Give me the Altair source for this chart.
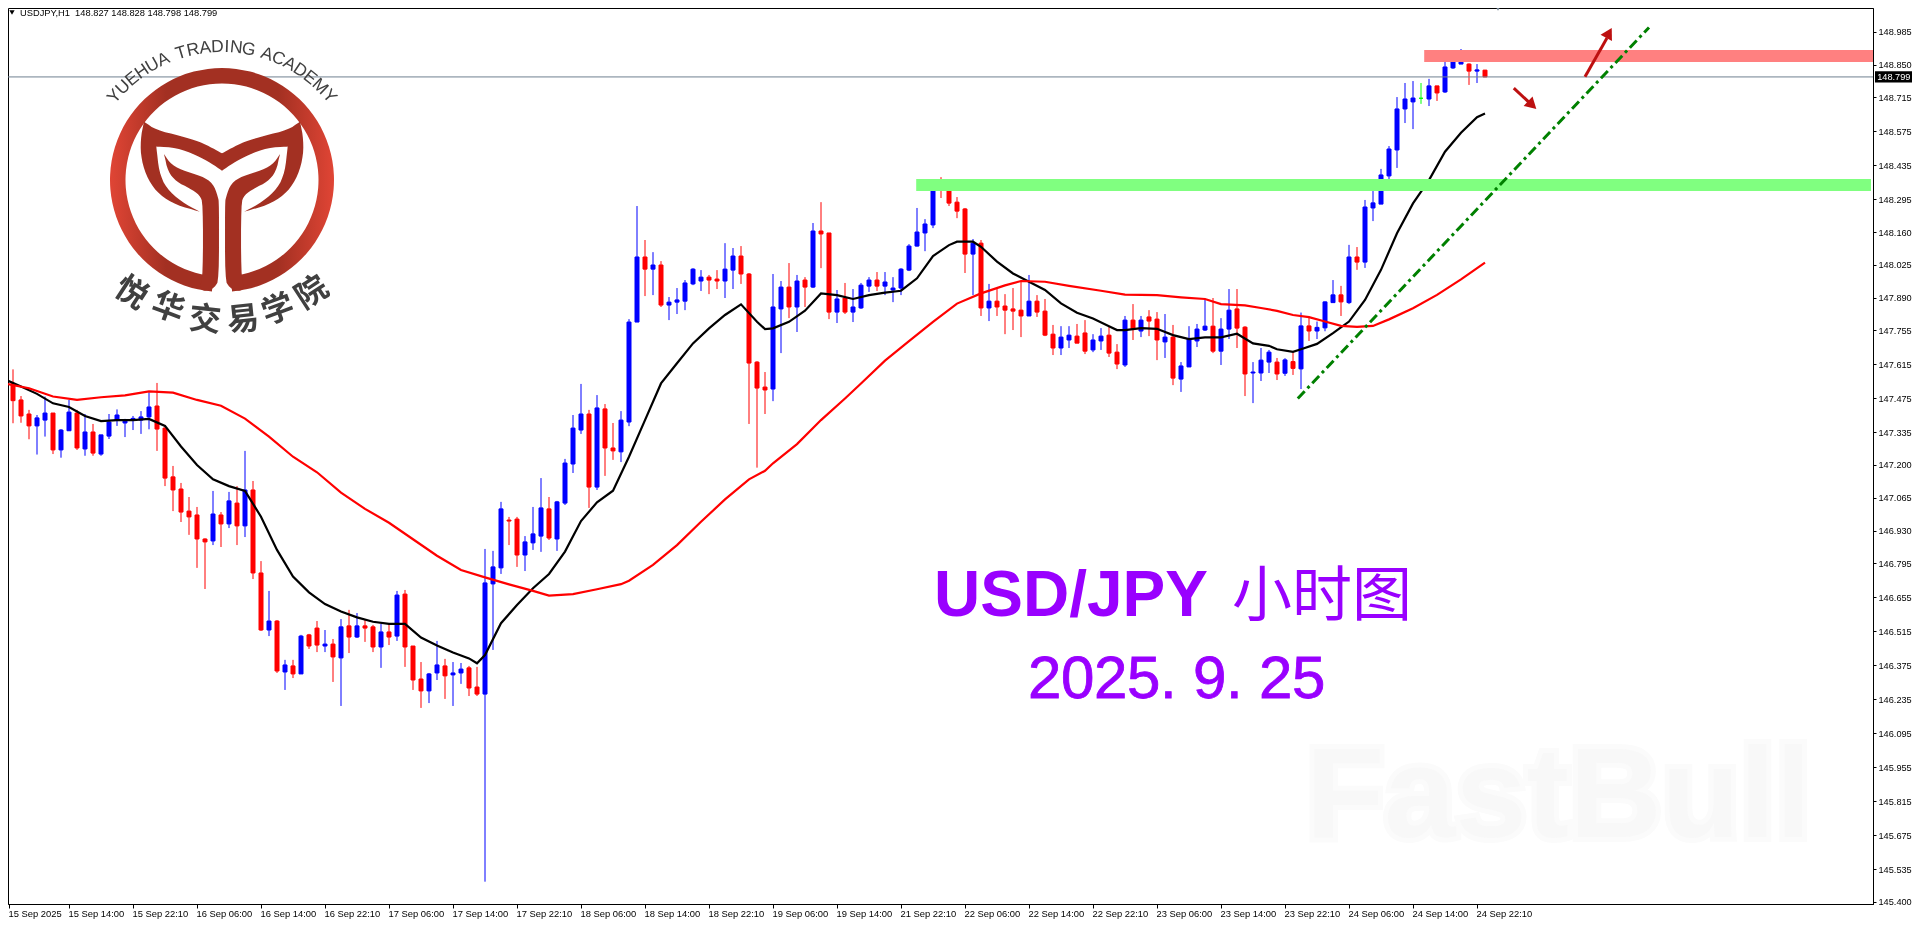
import json

import altair as alt
import numpy as np
import pandas as pd

# hourly candles, one entry per bar
opens = [
    147.502, 147.536, 147.468, 147.410, 147.361, 147.385, 147.414, 147.262, 147.341, 147.414,
    147.266, 147.336, 147.245, 147.319, 147.384, 147.373, 147.385, 147.385, 147.398, 147.443,
    147.352, 147.151, 147.101, 147.010, 146.994, 146.895, 146.887, 146.994, 146.957, 147.043,
    146.949, 147.097, 146.755, 146.520, 146.557, 146.347, 146.372, 146.339, 146.500, 146.528,
    146.454, 146.462, 146.405, 146.537, 146.491, 146.537, 146.533, 146.450, 146.512, 146.495,
    146.668, 146.454, 146.318, 146.269, 146.343, 146.372, 146.335, 146.343, 146.364, 146.285,
    146.256, 146.710, 146.776, 146.973, 146.977, 146.829, 146.879, 146.907, 147.019, 146.895,
    147.043, 147.204, 147.344, 147.410, 147.109, 147.431, 147.270, 147.254, 147.377, 147.789,
    148.057, 148.007, 148.024, 147.859, 147.871, 147.875, 147.946, 147.958, 147.974, 147.966,
    147.958, 148.003, 148.061, 147.987, 147.624, 147.521, 147.513, 147.843, 147.933, 147.851,
    147.962, 147.933, 148.164, 148.156, 147.830, 147.888, 147.830, 147.847, 147.937, 147.962,
    147.937, 147.921, 147.929, 148.003, 148.102, 148.156, 148.189, 148.345, 148.337, 148.283,
    148.255, 148.069, 148.114, 147.847, 147.875, 147.855, 147.843, 147.838, 147.814, 147.875,
    147.834, 147.739, 147.682, 147.715, 147.731, 147.744, 147.674, 147.711, 147.735, 147.665,
    147.612, 147.797, 147.752, 147.810, 147.801, 147.707, 147.727, 147.554, 147.604, 147.711,
    147.756, 147.772, 147.669, 147.760, 147.843, 147.768, 147.579, 147.579, 147.624, 147.624,
    147.578, 147.626, 147.596, 147.773, 147.752, 147.765, 147.869, 147.901, 147.869, 148.057,
    148.036, 148.259, 148.275, 148.391, 148.498, 148.667, 148.696, 148.711, 148.708, 148.762,
    148.737, 148.836, 148.852, 148.852, 148.823, 148.827,
]
closes = [
    147.525, 147.465, 147.402, 147.361, 147.394, 147.414, 147.262, 147.344, 147.418, 147.270,
    147.336, 147.249, 147.324, 147.377, 147.406, 147.381, 147.392, 147.398, 147.439, 147.348,
    147.146, 147.097, 147.006, 146.986, 146.895, 146.883, 146.998, 146.957, 147.052, 146.949,
    147.097, 146.755, 146.520, 146.557, 146.351, 146.376, 146.339, 146.495, 146.454, 146.458,
    146.462, 146.409, 146.533, 146.491, 146.537, 146.528, 146.450, 146.512, 146.491, 146.664,
    146.450, 146.314, 146.269, 146.339, 146.376, 146.331, 146.343, 146.359, 146.281, 146.256,
    146.714, 146.780, 147.019, 146.969, 146.829, 146.883, 146.916, 147.023, 146.899, 147.048,
    147.208, 147.352, 147.410, 147.109, 147.435, 147.270, 147.258, 147.385, 147.789, 148.057,
    148.007, 148.024, 147.859, 147.871, 147.880, 147.950, 148.007, 147.974, 147.962, 147.958,
    148.007, 148.061, 147.987, 147.620, 147.517, 147.509, 147.851, 147.933, 147.851, 147.958,
    147.933, 148.164, 148.152, 147.830, 147.884, 147.830, 147.851, 147.941, 147.962, 147.937,
    147.954, 147.929, 148.007, 148.102, 148.160, 148.193, 148.345, 148.333, 148.279, 148.246,
    148.069, 148.114, 147.847, 147.875, 147.851, 147.838, 147.834, 147.814, 147.875, 147.830,
    147.735, 147.682, 147.727, 147.735, 147.702, 147.669, 147.715, 147.731, 147.661, 147.616,
    147.797, 147.760, 147.797, 147.793, 147.715, 147.727, 147.558, 147.608, 147.719, 147.760,
    147.772, 147.669, 147.760, 147.838, 147.764, 147.575, 147.583, 147.632, 147.665, 147.575,
    147.633, 147.598, 147.773, 147.752, 147.767, 147.872, 147.901, 147.872, 148.057, 148.036,
    148.263, 148.280, 148.395, 148.502, 148.667, 148.708, 148.712, 148.711, 148.762, 148.733,
    148.840, 148.861, 148.906, 148.823, 148.828, 148.799,
]
highs = [
    147.608, 147.594, 147.484, 147.427, 147.406, 147.482, 147.414, 147.348, 147.468, 147.427,
    147.410, 147.369, 147.324, 147.410, 147.429, 147.390, 147.402, 147.422, 147.499, 147.538,
    147.358, 147.196, 147.126, 147.068, 147.027, 146.898, 147.093, 147.006, 147.089, 147.113,
    147.258, 147.134, 146.804, 146.681, 146.561, 146.397, 146.397, 146.500, 146.504, 146.557,
    146.520, 146.483, 146.565, 146.603, 146.590, 146.565, 146.541, 146.545, 146.545, 146.681,
    146.685, 146.454, 146.388, 146.343, 146.475, 146.401, 146.388, 146.384, 146.372, 146.368,
    146.854, 146.846, 147.048, 146.986, 146.986, 146.907, 147.027, 147.146, 147.068, 147.052,
    147.225, 147.406, 147.534, 147.427, 147.488, 147.451, 147.373, 147.422, 147.801, 148.267,
    148.127, 148.077, 148.040, 147.892, 147.929, 147.962, 148.011, 148.003, 147.983, 148.003,
    148.114, 148.094, 148.102, 147.991, 147.628, 147.583, 147.987, 147.958, 148.032, 147.983,
    147.974, 148.197, 148.283, 148.156, 147.921, 147.950, 147.925, 147.950, 147.974, 147.995,
    147.995, 147.974, 148.011, 148.110, 148.259, 148.213, 148.353, 148.386, 148.378, 148.304,
    148.259, 148.131, 148.127, 147.946, 147.925, 147.904, 147.929, 147.958, 147.983, 147.900,
    147.884, 147.777, 147.772, 147.772, 147.781, 147.797, 147.739, 147.764, 147.772, 147.698,
    147.814, 147.863, 147.814, 147.838, 147.830, 147.822, 147.777, 147.624, 147.772, 147.781,
    147.880, 147.888, 147.805, 147.925, 147.925, 147.772, 147.624, 147.682, 147.674, 147.641,
    147.640, 147.663, 147.828, 147.811, 147.791, 147.874, 147.962, 147.938, 148.107, 148.098,
    148.292, 148.347, 148.420, 148.514, 148.716, 148.774, 148.782, 148.774, 148.791, 148.762,
    148.869, 148.885, 148.914, 148.855, 148.852, 148.828,
]
lows = [
    147.493, 147.372, 147.374, 147.306, 147.243, 147.317, 147.245, 147.230, 147.341, 147.262,
    147.238, 147.238, 147.238, 147.307, 147.361, 147.315, 147.344, 147.328, 147.347, 147.258,
    147.113, 147.010, 146.965, 146.912, 146.776, 146.689, 146.870, 146.862, 146.940, 146.870,
    146.903, 146.730, 146.516, 146.495, 146.343, 146.273, 146.322, 146.339, 146.442, 146.429,
    146.429, 146.306, 146.207, 146.425, 146.487, 146.471, 146.429, 146.364, 146.458, 146.475,
    146.368, 146.273, 146.199, 146.219, 146.314, 146.236, 146.207, 146.298, 146.248, 146.248,
    145.483, 146.438, 146.751, 146.870, 146.780, 146.763, 146.850, 146.842, 146.891, 146.846,
    147.035, 147.167, 147.328, 147.023, 147.097, 147.155, 147.221, 147.212, 147.360, 147.789,
    147.896, 147.900, 147.851, 147.797, 147.822, 147.838, 147.941, 147.917, 147.904, 147.925,
    147.888, 147.925, 147.946, 147.369, 147.189, 147.410, 147.463, 147.661, 147.805, 147.748,
    147.851, 147.929, 148.011, 147.801, 147.785, 147.822, 147.789, 147.843, 147.913, 147.917,
    147.900, 147.871, 147.900, 147.999, 148.100, 148.081, 148.176, 148.300, 148.267, 148.217,
    147.991, 147.900, 147.814, 147.793, 147.814, 147.739, 147.756, 147.727, 147.814, 147.810,
    147.731, 147.653, 147.653, 147.682, 147.702, 147.657, 147.665, 147.674, 147.645, 147.595,
    147.604, 147.715, 147.727, 147.731, 147.632, 147.641, 147.529, 147.501, 147.604, 147.686,
    147.752, 147.661, 147.612, 147.719, 147.682, 147.484, 147.455, 147.546, 147.579, 147.550,
    147.567, 147.571, 147.513, 147.711, 147.719, 147.751, 147.869, 147.814, 147.863, 148.004,
    148.012, 148.205, 148.275, 148.374, 148.424, 148.609, 148.584, 148.688, 148.679, 148.700,
    148.733, 148.832, 148.852, 148.766, 148.774, 148.798,
]

# short moving average (black)
fast_ma_bars = [
    0, 2, 4, 6, 8, 10, 12, 14, 16, 18, 20, 22, 24, 26, 28, 30, 32, 34, 36, 38, 40, 42, 44, 46,
    48, 50, 52, 54, 56, 58, 59, 60, 62, 64, 66, 68, 70, 72, 74, 76, 78, 80, 82, 84, 86, 88, 90,
    92, 94, 95, 96, 98, 100, 102, 104, 106, 108, 110, 112, 114, 116, 118, 119, 121, 122, 124,
    126, 128, 130, 132, 134, 136, 138, 139, 140, 142, 144, 146, 148, 150, 152, 154, 156, 158,
    159, 161, 162, 164, 166, 168, 170, 172, 174, 176, 178, 180, 182, 184, 185,
]
fast_ma = [
    147.553, 147.523, 147.493, 147.454, 147.439, 147.402, 147.381, 147.385, 147.385, 147.390,
    147.361, 147.276, 147.200, 147.141, 147.113, 147.093, 146.987, 146.850, 146.740, 146.675,
    146.627, 146.596, 146.572, 146.554, 146.545, 146.545, 146.489, 146.456, 146.427, 146.403,
    146.383, 146.417, 146.548, 146.623, 146.692, 146.751, 146.843, 146.969, 147.046, 147.094,
    147.234, 147.385, 147.536, 147.619, 147.701, 147.763, 147.818, 147.862, 147.790, 147.760,
    147.763, 147.790, 147.836, 147.907, 147.900, 147.884, 147.900, 147.910, 147.918, 147.969,
    148.061, 148.106, 148.120, 148.120, 148.099, 148.038, 147.989, 147.955, 147.921, 147.866,
    147.827, 147.804, 147.772, 147.756, 147.756, 147.764, 147.761, 147.735, 147.719, 147.726,
    147.726, 147.741, 147.701, 147.691, 147.677, 147.666, 147.677, 147.699, 147.743, 147.791,
    147.880, 148.004, 148.155, 148.278, 148.374, 148.491, 148.569, 148.633, 148.648,
]

# long moving average (red)
slow_ma_bars = [
    0, 3, 6, 9, 12, 15, 18, 21, 24, 27, 30, 33, 36, 39, 42, 45, 48, 51, 54, 57, 60, 63, 66, 68,
    71, 74, 77, 78, 81, 84, 87, 90, 93, 95, 96, 99, 102, 105, 107, 110, 113, 116, 119, 122, 125,
    127, 130, 133, 137, 140, 144, 147, 150, 152, 155, 157, 159, 161, 163, 165, 167, 169, 171,
    173, 176, 179, 182, 185,
]
slow_ma = [
    147.536, 147.516, 147.482, 147.468, 147.479, 147.487, 147.503, 147.498, 147.468, 147.444,
    147.391, 147.317, 147.234, 147.170, 147.086, 147.019, 146.962, 146.894, 146.826, 146.767,
    146.737, 146.708, 146.681, 146.662, 146.668, 146.688, 146.709, 146.723, 146.788, 146.870,
    146.966, 147.058, 147.141, 147.176, 147.207, 147.286, 147.385, 147.474, 147.536, 147.630,
    147.710, 147.790, 147.865, 147.907, 147.940, 147.958, 147.955, 147.938, 147.918, 147.902,
    147.900, 147.891, 147.884, 147.863, 147.858, 147.847, 147.835, 147.818, 147.809, 147.791,
    147.773, 147.769, 147.773, 147.800, 147.846, 147.901, 147.965, 148.034,
]

# axes
x_tick_bars = [0.5] + list(range(8, 192, 8))
x_tick_labels = [
    "15 Sep 2025", "15 Sep 14:00", "15 Sep 22:10", "16 Sep 06:00", "16 Sep 14:00", "16 Sep 22:10",
    "17 Sep 06:00", "17 Sep 14:00", "17 Sep 22:10", "18 Sep 06:00", "18 Sep 14:00", "18 Sep 22:10",
    "19 Sep 06:00", "19 Sep 14:00", "21 Sep 22:10", "22 Sep 06:00", "22 Sep 14:00", "22 Sep 22:10",
    "23 Sep 06:00", "23 Sep 14:00", "23 Sep 22:10", "24 Sep 06:00", "24 Sep 14:00", "24 Sep 22:10",
]
y_ticks = [
    148.985, 148.850, 148.715, 148.575, 148.435, 148.295, 148.160, 148.025, 147.890,
    147.755, 147.615, 147.475, 147.335, 147.200, 147.065, 146.930, 146.795, 146.655,
    146.515, 146.375, 146.235, 146.095, 145.955, 145.815, 145.675, 145.535, 145.400,
]
last_price = 148.799

x_domain = [0.375, 233.5]
y_domain = [145.391, 149.083]
plot_w, plot_h = 1865, 896
# padding=0: a bar layer would otherwise pad the continuous x scale
x_scale = alt.Scale(domain=x_domain, nice=False, zero=False, padding=0)
y_scale = alt.Scale(domain=y_domain, nice=False, zero=False, padding=0)
x_axis = alt.Axis(
    values=x_tick_bars,
    labelExpr=json.dumps(x_tick_labels) + "[floor(datum.value / 8)]",
    labelAlign="left",
    labelBaseline="middle",
    labelOffset=-1,
    labelPadding=5,
    labelOverlap=False,
    labelFont="Liberation Sans",
    labelFontSize=9.4,
    labelColor="black",
    tickColor="black",
    tickSize=4,
    domainColor="black",
    grid=False,
    title=None,
)
y_axis = alt.Axis(
    orient="right",
    values=y_ticks,
    format=".3f",
    labelPadding=2,
    labelOverlap=False,
    labelFont="Liberation Sans",
    labelFontSize=9.2,
    labelColor="black",
    tickColor="black",
    tickSize=3,
    domainColor="black",
    grid=False,
    title=None,
)


def xe(field="bar"):
    return alt.X(field + ":Q", scale=x_scale, axis=x_axis)


def ye(field="price"):
    return alt.Y(field + ":Q", scale=y_scale, axis=y_axis)


def to_bar(px):
    return x_domain[0] + np.asarray(px, dtype=float) * (x_domain[1] - x_domain[0]) / plot_w


def to_price(py):
    return y_domain[1] - np.asarray(py, dtype=float) * (y_domain[1] - y_domain[0]) / plot_h


def candle_color(o, c):
    if c > o:
        return "#0000ff"
    if c < o:
        return "#ff0000"
    return "#00ff00"


candles = pd.DataFrame({"bar": range(len(opens)), "open": opens, "high": highs, "low": lows, "close": closes})
candles["color"] = [candle_color(o, c) for o, c in zip(opens, closes)]

wicks = (
    alt.Chart(candles)
    .mark_rule(strokeWidth=1, clip=True)
    .encode(x=xe(), y=ye("low"), y2="high:Q", color=alt.Color("color:N", scale=None))
)
bodies = (
    alt.Chart(candles)
    .mark_bar(size=4, strokeWidth=1, clip=True)
    .encode(
        x=xe(),
        y=ye("open"),
        y2="close:Q",
        color=alt.Color("color:N", scale=None),
        stroke=alt.Color("color:N", scale=None),
    )
)

fast_line = (
    alt.Chart(pd.DataFrame({"bar": fast_ma_bars, "price": fast_ma}))
    .mark_line(color="black", strokeWidth=2.2, clip=True)
    .encode(x=xe(), y=ye())
)
slow_line = (
    alt.Chart(pd.DataFrame({"bar": slow_ma_bars, "price": slow_ma}))
    .mark_line(color="#ff0000", strokeWidth=2.2, clip=True)
    .encode(x=xe(), y=ye())
)

# support and resistance zones
zones = pd.DataFrame({
    "x0": [113.9, 177.4],
    "x1": [233.25, 233.6],
    "y0": [148.329, 148.860],
    "y1": [148.378, 148.910],
    "color": ["#80ff80", "#ff8080"],
})
zone_rects = (
    alt.Chart(zones)
    .mark_rect(blend="multiply", clip=True)
    .encode(x=xe("x0"), x2="x1:Q", y=ye("y0"), y2="y1:Q", color=alt.Color("color:N", scale=None))
)

price_frame = pd.DataFrame({"price": [last_price]})
price_line = alt.Chart(price_frame).mark_rule(color="#708090", strokeWidth=1).encode(y=ye())
price_box = (
    alt.Chart(pd.DataFrame({"x0": [233.75], "x1": [238.4], "y0": [148.776], "y1": [148.822]}))
    .mark_rect(color="black")
    .encode(x=xe("x0"), x2="x1:Q", y=ye("y0"), y2="y1:Q")
)
price_text = (
    alt.Chart(pd.DataFrame({"bar": [236.1], "price": [last_price], "label": ["148.799"]}))
    .mark_text(color="white", font="Liberation Sans", fontSize=9.2, align="center", baseline="middle")
    .encode(x=xe(), y=ye(), text="label:N")
)

trend_line = (
    alt.Chart(pd.DataFrame({"bar": [161.6, 205.5], "price": [147.474, 149.003]}))
    .mark_line(color="#008000", strokeWidth=3, strokeDash=[10, 4, 3, 4], clip=True)
    .encode(x=xe(), y=ye())
)

arrow_color = "#bd1010"
arrow_shafts = (
    alt.Chart(pd.DataFrame({
        "x0": [197.5, 188.6],
        "x1": [200.25, 190.75],
        "y0": [148.800, 148.753],
        "y1": [148.959, 148.687],
    }))
    .mark_rule(color=arrow_color, strokeWidth=3)
    .encode(x=xe("x0"), x2="x1:Q", y=ye("y0"), y2="y1:Q")
)
arrow_heads = (
    alt.Chart(pd.DataFrame({"bar": [200.5, 190.9], "price": [148.980, 148.683], "angle": [29, 133]}))
    .mark_point(shape="triangle-up", filled=True, color=arrow_color, opacity=1, size=170)
    .encode(x=xe(), y=ye(), angle=alt.Angle("angle:Q", scale=None))
)

# chart header
header = (
    alt.Chart(pd.DataFrame({"label": ["USDJPY,H1\u00a0\u00a0148.827 148.828 148.798 148.799"]}))
    .mark_text(font="Liberation Sans", fontSize=9.3, color="black", align="left", baseline="middle")
    .encode(x=alt.value(12), y=alt.value(4.5), text="label:N")
)
header_arrow = (
    alt.Chart(pd.DataFrame({"a": [1]}))
    .mark_point(shape="triangle-down", filled=True, color="black", opacity=1, size=28)
    .encode(x=alt.value(4), y=alt.value(4.5))
)
shift_marker = (
    alt.Chart(pd.DataFrame({"a": [1]}))
    .mark_point(shape="triangle-down", filled=True, color="#708090", opacity=1, size=40)
    .encode(x=alt.value(1490), y=alt.value(0))
)

# annotation text
title_frame = pd.DataFrame({"a": [1]})
title_latin = (
    alt.Chart(title_frame)
    .mark_text(text="USD/JPY", font="Liberation Sans", fontWeight="bold", fontSize=64, color="#9900ff",
               align="left", baseline="alphabetic")
    .encode(x=alt.value(926), y=alt.value(608))
)
title_cjk = (
    alt.Chart(title_frame)
    .mark_text(text="小时图", font="Noto Sans CJK SC", fontSize=60, color="#9900ff",
               align="left", baseline="alphabetic")
    .encode(x=alt.value(1224), y=alt.value(608))
)
date_chars = list("2025.9.25")
date_text = (
    alt.Chart(pd.DataFrame({"ch": date_chars, "bar": to_bar([1020 + 33 * i for i in range(len(date_chars))])}))
    .mark_text(font="Liberation Sans", fontSize=60, color="#9900ff", stroke="#9900ff", strokeWidth=0.8,
               align="left", baseline="alphabetic")
    .encode(x=xe(), y=alt.value(690), text="ch:N")
)

watermark_halo = (
    alt.Chart(title_frame)
    .mark_text(text="FastBull", font="Liberation Sans", fontWeight="bold", fontSize=128, color="#fbfbfb",
               stroke="#fbfbfb", strokeWidth=10, align="left", baseline="alphabetic")
    .encode(x=alt.value(1298), y=alt.value(829))
)
watermark = (
    alt.Chart(title_frame)
    .mark_text(text="FastBull", font="Liberation Sans", fontWeight="bold", fontSize=128, color="#f8f8f8",
               align="left", baseline="alphabetic")
    .encode(x=alt.value(1298), y=alt.value(829))
)

# logo: ring, tail and stems, then the curved lettering
logo_cx, logo_cy, logo_r = 222 - 8, 180 - 8, 112
tail_top = [(433, 365), (470, 390), (540, 407), (600, 425), (640, 445), (667, 460)]
tail_outer = [(433, 365), (422, 420), (425, 480), (445, 540), (480, 585), (530, 615), (600, 635)]
tail_inner = [(600, 635), (545, 605), (500, 565), (478, 515), (470, 440)]
tail_band = [(470, 440), (530, 443), (590, 465), (635, 490), (667, 512)]
stem = [
    (493, 462), (515, 495), (560, 515), (605, 528), (640, 550), (655, 590), (658, 610), (658, 840),
    (645, 862), (625, 873), (600, 870), (610, 822), (610, 610), (600, 585), (570, 565), (530, 545),
    (505, 515), (493, 462),
]


def smooth(points, rounds=2):
    # corner cutting, the end points stay where they are
    for _ in range(rounds):
        out = [points[0]]
        for (x0, y0), (x1, y1) in zip(points[:-1], points[1:]):
            out.append((0.75 * x0 + 0.25 * x1, 0.75 * y0 + 0.25 * y1))
            out.append((0.25 * x0 + 0.75 * x1, 0.25 * y0 + 0.75 * y1))
        out.append(points[-1])
        points = out
    return points


def mirror(points):
    return [(1334 - x, y) for x, y in points]


def to_path(points):
    cmds = ["%.3f,%.3f" % ((x - 667) / 336, (y - 540) / 336) for x, y in points]
    return "M" + " L".join(cmds) + " Z"


tail_top_s, tail_outer_s = smooth(tail_top), smooth(tail_outer)
tail_inner_s, tail_band_s = smooth(tail_inner), smooth(tail_band)
stem_s = smooth(stem)
tail = (
    tail_top_s
    + mirror(tail_top_s)[::-1]
    + mirror(tail_outer_s)
    + mirror(tail_inner_s)
    + mirror(tail_band_s)
    + tail_band_s[::-1]
    + tail_inner_s[::-1]
    + tail_outer_s[::-1]
)
logo_path = " ".join([to_path(tail), to_path(stem_s), to_path(mirror(stem_s))])
logo_shape = (
    alt.Chart(title_frame)
    .mark_point(shape=logo_path, filled=True, color="#a33022", opacity=1, size=(2 * logo_r) ** 2)
    .encode(x=alt.value(logo_cx), y=alt.value(logo_cy))
)
logo_ring = (
    alt.Chart(title_frame)
    .mark_arc(
        theta=np.pi + 0.09,
        theta2=3 * np.pi - 0.09,
        radius=logo_r,
        radius2=96.5,
        fill=alt.Gradient(
            gradient="linear",
            x1=0, x2=1, y1=0, y2=0,
            stops=[
                alt.GradientStop(color="#e04535", offset=0),
                alt.GradientStop(color="#a33022", offset=0.25),
                alt.GradientStop(color="#a33022", offset=0.75),
                alt.GradientStop(color="#e04535", offset=1),
            ],
        ),
    )
    .encode(x=alt.value(logo_cx), y=alt.value(logo_cy))
)

logo_en = "YUEHUA TRADING ACADEMY"
en_weights = np.array([0.55 if ch in " I" else 1.2 if ch == "M" else 1.0 for ch in logo_en])
en_steps = np.cumsum(en_weights) - en_weights / 2
en_angles = (en_steps / en_weights.sum() - 0.5) * 2 * 52
logo_en_text = (
    alt.Chart(pd.DataFrame({
        "ch": list(logo_en),
        "bar": to_bar(222 - 8 + 141 * np.sin(np.radians(en_angles))),
        "price": to_price(188 - 8 - 141 * np.cos(np.radians(en_angles))),
        "rot": en_angles % 360,
    }))
    .mark_text(font="Liberation Sans", fontSize=17.5, color="#404040", align="center", baseline="middle")
    .encode(x=xe(), y=ye(), angle=alt.Angle("rot:Q", scale=None), text="ch:N")
)
logo_cn_text = (
    alt.Chart(pd.DataFrame({
        "ch": list("悦华交易学院"),
        "bar": to_bar([123, 160, 197, 235, 270, 304]),
        "price": to_price([285, 300, 312, 312, 302, 285]),
        "rot": [33, 20, 6, 354, 340, 327],
    }))
    .mark_text(font="Noto Sans CJK SC", fontWeight="bold", fontSize=32, color="#404040",
               align="center", baseline="middle")
    .encode(x=xe(), y=ye(), angle=alt.Angle("rot:Q", scale=None), text="ch:N")
)

chart = (
    alt.layer(
        watermark_halo, watermark, wicks, bodies, fast_line, slow_line, zone_rects, price_line,
        price_box, price_text, trend_line, arrow_shafts, arrow_heads, header, header_arrow, shift_marker,
        title_latin, title_cjk, date_text, logo_ring, logo_shape, logo_en_text, logo_cn_text,
    )
    .properties(
        width=plot_w,
        height=plot_h,
        padding={"left": 0, "top": 0, "right": 39, "bottom": 15},
        autosize=alt.AutoSizeParams(type="none"),
    )
    .configure_view(stroke="black")
)

chart.save("out.html", embed_options={"renderer": "svg", "actions": False})
